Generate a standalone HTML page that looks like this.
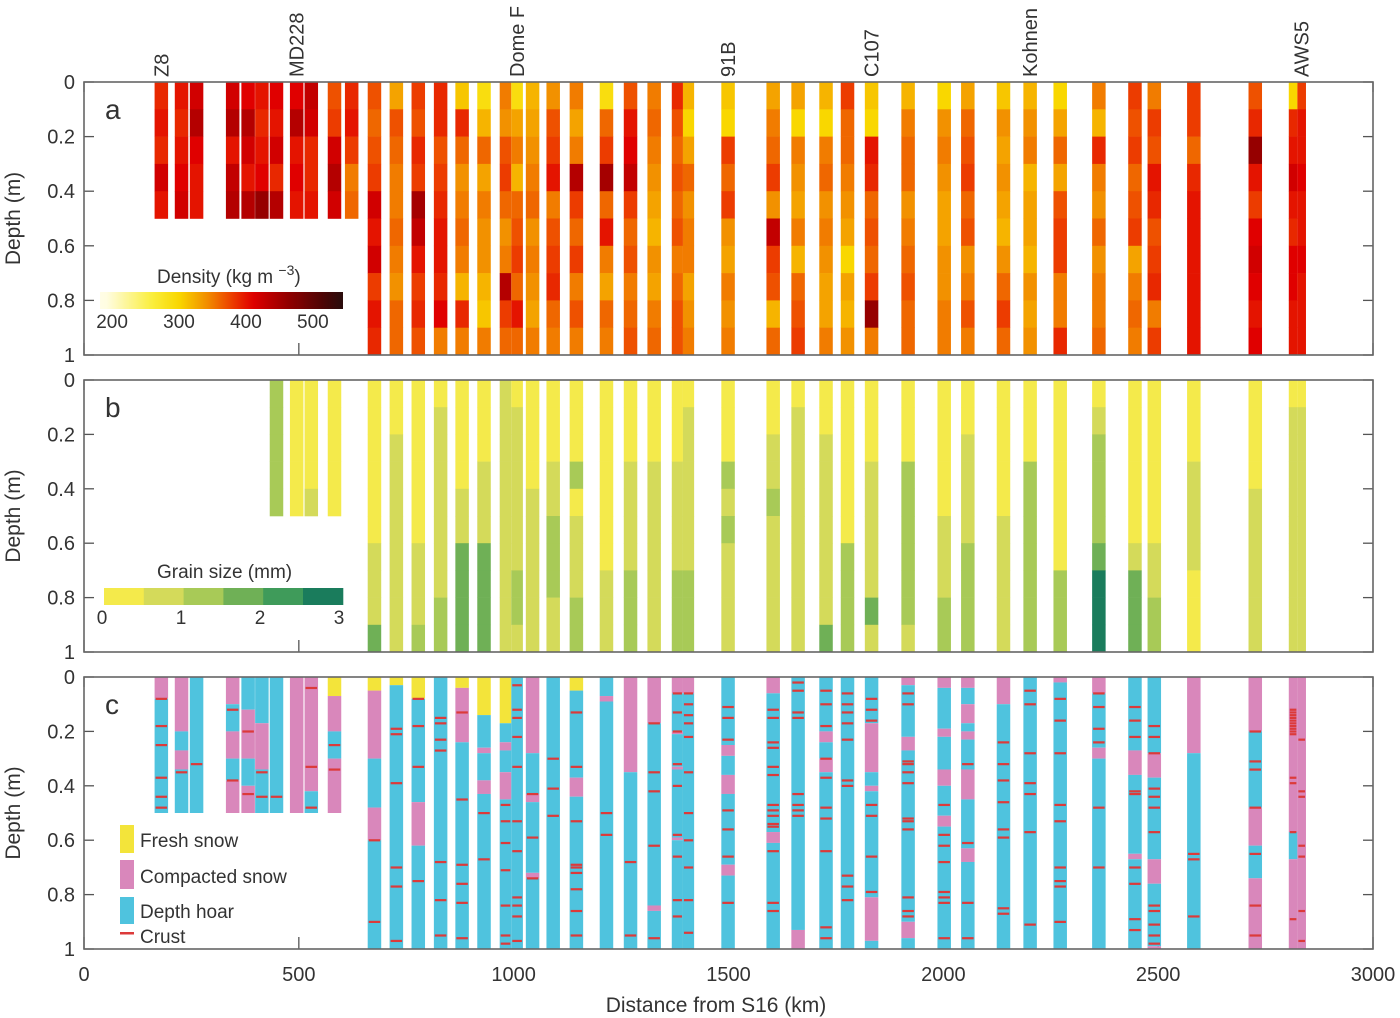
<!DOCTYPE html>
<html><head><meta charset="utf-8"><style>
html,body{margin:0;padding:0;background:#fff;}
svg{display:block;font-family:"Liberation Sans",sans-serif;}
</style></head><body>
<svg id="chart" width="1400" height="1018" viewBox="0 0 1400 1018"></svg>
<script>
// ---- data ----
const distances=[180,227,262,346,382,414,448,495,529,583,623,676,727,778,830,880,931,981,1008,1044,1092,1146,1216,1272,1327,1381,1407,1499,1604,1662,1727,1777,1833,1918,2002,2057,2140,2202,2272,2362,2446,2491,2583,2726,2814,2834];
const density=[
[390,400,390,420,400],[400,390,400,410,420],[420,440,410,400,400],[420,440,400,430,440],[410,440,420,400,440],[400,390,400,410,460],[410,400,420,390,440],[410,440,400,410,400],[430,420,390,390,400],[370,380,420,440,420],[390,400,380,350,360],
[370,360,370,380,420,400,420,380,400,390],[330,370,360,350,350,360,350,340,360,360],[380,370,390,380,450,430,400,380,390,370],[390,390,370,380,390,400,400,390,410,350],[310,390,360,340,350,360,350,320,390,350],[290,320,360,330,350,340,340,320,310,350],[350,340,370,380,360,340,350,440,380,360],[290,330,350,320,360,370,380,360,400,360],[320,330,340,350,360,340,350,340,330,350],[340,370,380,400,350,370,380,390,360,350],[350,330,350,440,380,360,380,350,370,350],[290,360,380,450,360,400,350,330,360,350],[370,400,410,430,380,360,370,350,360,370],[350,360,350,340,330,320,340,330,350,360],[390,370,360,370,360,370,350,360,370,370],[320,300,330,360,340,350,350,330,340,350],
[310,300,380,360,380,340,330,350,340,350],[330,350,360,380,340,430,380,370,320,360],[330,300,350,340,330,350,320,360,370,380],[320,300,350,360,340,350,340,330,330,350],[380,360,360,350,340,330,300,330,320,340],[310,300,400,390,360,370,360,380,460,350],[320,350,360,360,340,350,360,370,360,360],[300,340,350,340,330,330,340,340,350,350],[330,360,370,380,360,370,340,350,370,350],[310,340,330,340,330,320,340,360,380,360],[320,340,350,320,330,330,320,340,330,340],[300,330,360,330,370,380,380,350,350,390],[350,320,390,350,340,360,340,350,350,360],[380,370,380,360,370,380,330,350,360,350],[350,380,370,400,390,370,380,390,350,380],[380,380,360,390,400,400,400,400,400,400],[370,390,460,400,380,410,420,410,400,410],[300,390,400,420,400,390,410,410,400,400],[380,400,400,410,400,400,410,400,400,400]];
const grain=[null,null,null,null,null,null,[2,2,2,2,2],[0,0,0,0,0],[0,0,0,0,1],[0,0,0,0,0],null,
[0,0,0,0,0,0,1,1,1,3],[0,0,1,1,1,1,1,1,1,1],[0,0,0,0,0,0,1,1,1,2],[0,1,1,1,1,1,1,1,2,2],[0,0,0,0,1,1,3,3,3,3],[0,0,0,1,1,1,3,3,3,3],[1,1,1,1,1,1,1,1,1,1],[0,1,1,1,1,1,1,2,2,1],[0,0,0,0,1,1,1,1,1,1],[0,0,0,1,1,2,2,2,1,1],[0,0,0,2,0,1,1,1,2,2],[0,0,0,0,0,0,0,1,1,1],[0,0,0,1,1,1,1,2,2,2],[0,0,0,1,1,1,1,1,1,1],[0,0,0,1,1,1,1,2,2,2],[0,1,1,1,1,1,1,2,2,2],
[0,0,0,2,1,2,1,1,1,1],[0,0,1,1,2,1,1,1,1,1],[0,1,1,1,1,1,1,1,1,1],[0,0,1,1,1,1,1,1,1,3],[0,0,0,0,0,0,2,2,2,2],[0,0,0,1,1,1,1,1,3,1],[0,0,0,2,2,2,2,2,2,1],[0,0,0,0,0,1,1,1,2,2],[0,0,1,1,1,1,2,2,2,2],[0,0,0,0,0,1,1,1,1,1],[0,0,0,2,2,2,2,2,2,2],[0,0,0,0,0,0,0,2,2,2],[0,1,2,2,2,2,3,5,5,5],[0,0,0,0,0,0,1,3,3,3],[0,0,0,0,0,0,1,1,2,2],[0,0,0,1,1,1,1,0,0,0],[0,0,0,0,1,1,1,1,1,1],[0,1,1,1,1,1,1,1,1,1],[0,1,1,1,1,1,1,1,1,1]];
const snowType=[
[[0,1],[0.08,2]],[[0,1],[0.2,2],[0.27,1],[0.34,2]],[[0,2]],[[0,1],[0.1,2],[0.2,1],[0.3,2],[0.38,1]],[[0,2],[0.12,1],[0.3,2],[0.4,1]],[[0,2],[0.17,1],[0.34,2]],[[0,2]],[[0,1]],[[0,1],[0.42,2]],[[0,0],[0.07,1],[0.2,2],[0.3,1]],null,
[[0,0],[0.05,1],[0.3,2],[0.48,1],[0.6,2]],[[0,0],[0.03,2]],[[0,0],[0.08,2],[0.46,1],[0.62,2]],[[0,2]],[[0,0],[0.04,1],[0.24,2]],[[0,0],[0.14,2],[0.26,1],[0.28,2],[0.38,1],[0.43,2]],[[0,0],[0.17,2],[0.24,1],[0.27,2],[0.35,1],[0.45,2]],[[0,2]],[[0,1],[0.28,2],[0.43,1],[0.46,2],[0.72,1],[0.74,2]],[[0,2]],[[0,0],[0.05,2],[0.37,1],[0.44,2]],[[0,2],[0.07,1],[0.09,2]],[[0,1],[0.35,2]],[[0,1],[0.17,2],[0.84,1],[0.86,2]],[[0,1],[0.06,2],[0.2,1],[0.21,2],[0.33,1],[0.34,2],[0.59,1],[0.6,2]],[[0,1],[0.06,2]],
[[0,2],[0.25,1],[0.29,2],[0.36,1],[0.43,2],[0.69,1],[0.73,2]],[[0,1],[0.06,2],[0.57,1],[0.61,2]],[[0,2],[0.93,1]],[[0,2],[0.2,1],[0.24,2],[0.3,1],[0.35,2]],[[0,2]],[[0,2],[0.17,1],[0.35,2],[0.4,1],[0.42,2],[0.81,1],[0.97,2]],[[0,1],[0.03,2],[0.22,1],[0.27,2],[0.9,1],[0.96,2]],[[0,1],[0.04,2],[0.19,1],[0.22,2],[0.34,1],[0.4,2],[0.51,1],[0.55,2]],[[0,1],[0.04,2],[0.1,1],[0.17,2],[0.2,1],[0.23,2],[0.34,1],[0.45,2],[0.63,1],[0.68,2]],[[0,1],[0.1,2]],[[0,2]],[[0,1],[0.02,2]],[[0,1],[0.06,2],[0.26,1],[0.3,2]],[[0,2],[0.27,1],[0.36,2],[0.65,1],[0.67,2]],[[0,2],[0.28,1],[0.37,2],[0.67,1],[0.76,2],[0.99,1]],[[0,1],[0.28,2]],[[0,1],[0.2,2],[0.48,1],[0.62,2],[0.74,1]],[[0,1],[0.57,2],[0.67,1]],[[0,1]]];
const typeDepth=[0.5,0.5,0.5,0.5,0.5,0.5,0.5,0.5,0.5,0.5,0.5];
const crusts=[
[0.08,0.18,0.25,0.37,0.44,0.48],[0.35],[0.32],[0.12,0.38],[0.2,0.43],[0.35,0.44],[0.44],[],[0.04,0.33,0.48],[0.25,0.34],[],
[0.6,0.9],[0.19,0.21,0.39,0.7,0.77,0.97],[0.08,0.18,0.33,0.75],[0.15,0.17,0.23,0.27,0.68,0.82,0.95],[0.13,0.45,0.69,0.76,0.83,0.96],[0.5,0.67],[0.47,0.53,0.61,0.71,0.84,0.95,0.98],[0.03,0.12,0.15,0.22,0.33,0.53,0.64,0.81,0.84,0.88,0.97],[0.43,0.59,0.74],[0.3,0.41,0.51],[0.13,0.33,0.53,0.69,0.7,0.72,0.78,0.86,0.95],[0.5,0.58],[0.68,0.95],[0.17,0.35,0.42,0.62,0.96],[0.06,0.13,0.2,0.32,0.4,0.58,0.66,0.82,0.88],[0.06,0.1,0.14,0.17,0.22,0.35,0.5,0.6,0.7,0.82,0.94],
[0.11,0.15,0.23,0.49,0.56,0.66,0.83],[0.12,0.15,0.24,0.26,0.33,0.36,0.47,0.49,0.51,0.54,0.55,0.64,0.83,0.86],[0.02,0.05,0.13,0.15,0.43,0.47,0.49,0.51],[0.05,0.1,0.18,0.3,0.37,0.48,0.52,0.64,0.92,0.96],[0.06,0.1,0.13,0.17,0.23,0.38,0.4,0.73,0.77,0.82],[0.08,0.12,0.16,0.47,0.51,0.66,0.79],[0.06,0.1,0.31,0.32,0.35,0.39,0.52,0.53,0.56,0.81,0.86,0.88],[0.47,0.58,0.62,0.68,0.79,0.81,0.83,0.96],[0.32,0.61,0.83,0.96],[0.24,0.32,0.38,0.46,0.56,0.59,0.85,0.87],[0.05,0.1,0.28,0.39,0.43,0.57,0.91],[0.08,0.16,0.28,0.47,0.53,0.7,0.75,0.77,0.9],[0.06,0.11,0.19,0.24,0.48,0.7],[0.11,0.16,0.22,0.42,0.43,0.7,0.76,0.89,0.93],[0.18,0.22,0.28,0.41,0.44,0.48,0.57,0.84,0.86,0.91,0.95,0.98],[0.65,0.67,0.88],[0.2,0.31,0.34,0.48,0.65,0.84,0.95],[0.12,0.13,0.14,0.15,0.16,0.17,0.18,0.19,0.2,0.21,0.37,0.39,0.57,0.89],[0.23,0.42,0.44,0.62,0.66,0.86,0.97]];
const stations=["Z8","MD228","Dome F","91B","C107","Kohnen","AWS5"];
const stationKm=[180,495,1008,1499,1833,2202,2834];
const xTicks=[0,500,1000,1500,2000,2500,3000];
const yTicks=[0,0.2,0.4,0.6,0.8,1];
const densityTicks=[200,300,400,500];
const grainTicks=[0,1,2,3];

// ---- helpers ----
const NS="http://www.w3.org/2000/svg";
const svg=document.getElementById('chart');
function mk(tag,attrs,parent){const e=document.createElementNS(NS,tag);for(const k in attrs)e.setAttribute(k,attrs[k]);(parent||svg).appendChild(e);return e;}
const X0=84,X1=1373;
const xS=km=>X0+(X1-X0)*km/3000;
const panels=[{top:82,bot:355,label:'a'},{top:380,bot:652,label:'b'},{top:677,bot:949,label:'c'}];
const yS=(p,d)=>p.top+(p.bot-p.top)*d;
function lerp(a,b,t){return Math.round(a+(b-a)*t);}
const dStops=[[190,[255,253,230]],[260,[250,238,60]],[300,[249,215,0]],[340,[242,145,0]],[380,[236,60,0]],[410,[224,0,0]],[460,[150,0,0]],[520,[70,5,5]],[550,[35,15,15]]];
function dColor(v){if(v<=dStops[0][0])return 'rgb('+dStops[0][1]+')';for(let i=1;i<dStops.length;i++){if(v<=dStops[i][0]){const a=dStops[i-1],b=dStops[i],t=(v-a[0])/(b[0]-a[0]);return `rgb(${lerp(a[1][0],b[1][0],t)},${lerp(a[1][1],b[1][1],t)},${lerp(a[1][2],b[1][2],t)})`;}}return 'rgb(35,15,15)';}
const gColors=['#f4ea4b','#d4da5a','#a8ca57','#6fb056','#3f9b5a','#1a7c5c'];
const tColors=['#f3e43a','#d987bb','#4fc3de'];
const centers=distances.map(xS);
function colWidth(i){let w=13.5;if(i>0)w=Math.min(w,centers[i]-centers[i-1]);if(i<centers.length-1)w=Math.min(w,centers[i+1]-centers[i]);return w;}

// ---- axes frames & ticks ----
panels.forEach((p,pi)=>{
  const g=mk('g',{});
  
  
  p.g=g;
  yTicks.forEach(t=>{
    const y=yS(p,t);
    const l1=mk('line',{x1:X0,x2:X0+10,y1:y,y2:y,stroke:'#555','stroke-width':1.3},g);
    
    const l2=mk('line',{x1:X1-10,x2:X1,y1:y,y2:y,stroke:'#555','stroke-width':1.3},g);
    
    const tx=mk('text',{x:75,y:y+7,'text-anchor':'end','font-size':20,fill:'#333'},g);
    tx.textContent=String(t);
    
  });
  xTicks.forEach(t=>{
    const x=xS(t);
    const l=mk('line',{x1:x,x2:x,y1:p.bot-12,y2:p.bot,stroke:'#555','stroke-width':1.3},g);
    
    const l2=mk('line',{x1:x,x2:x,y1:p.top,y2:p.top+10,stroke:'#555','stroke-width':1.3},g);
    
  });
  const yt=mk('text',{x:0,y:0,transform:`translate(20,${(p.top+p.bot)/2}) rotate(-90)`,'text-anchor':'middle','font-size':21,fill:'#333'},g);
  yt.textContent='Depth (m)';
  
  const pl=mk('text',{x:105,y:p.top+37,'font-size':28,fill:'#333'},g);
  pl.textContent=p.label;
  
});

// ---- panel a: density ----
density.forEach((col,i)=>{
  const w=colWidth(i),x=centers[i]-w/2;
  col.forEach((v,j)=>{
    const y0=yS(panels[0],j*0.1),y1=yS(panels[0],(j+1)*0.1);
    const r=mk('rect',{x:x,y:y0,width:w,height:y1-y0+0.3,fill:dColor(v)},panels[0].g);
    
    
  });
});
// ---- panel b: grain ----
grain.forEach((col,i)=>{
  if(!col)return;
  const w=colWidth(i),x=centers[i]-w/2;
  col.forEach((c,j)=>{
    const y0=yS(panels[1],j*0.1),y1=yS(panels[1],(j+1)*0.1);
    const r=mk('rect',{x:x,y:y0,width:w,height:y1-y0+0.3,fill:gColors[c]},panels[1].g);
    
    
  });
});
// ---- panel c: snow type ----
snowType.forEach((segs,i)=>{
  if(!segs)return;
  const w=colWidth(i),x=centers[i]-w/2;
  const depth=i<typeDepth.length?typeDepth[i]:1;
  segs.forEach((s,j)=>{
    const end=j<segs.length-1?segs[j+1][0]:depth;
    const y0=yS(panels[2],s[0]),y1=yS(panels[2],end);
    const r=mk('rect',{x:x,y:y0,width:w,height:y1-y0,fill:tColors[s[1]]},panels[2].g);
    
    
  });
  crusts[i].forEach(d=>{
    const y=yS(panels[2],d);
    const r=mk('rect',{x:x+1,y:y-1,width:w-2,height:2.2,fill:'#dc3a3a'},panels[2].g);
    
    
  });
});

// frames on top
panels.forEach(p=>{
  const f=mk('rect',{x:X0,y:p.top,width:X1-X0,height:p.bot-p.top,fill:'none',stroke:'#666','stroke-width':1.6},p.g);
  
});

// x tick labels & title
xTicks.forEach(t=>{
  const tx=mk('text',{x:xS(t),y:981,'text-anchor':'middle','font-size':20,fill:'#333'});
  tx.textContent=String(t);
  
});
const xt=mk('text',{x:716,y:1012,'text-anchor':'middle','font-size':21,fill:'#333'});
xt.textContent='Distance from S16 (km)';


// station labels
stations.forEach((s,i)=>{
  const x=xS(stationKm[i])+7;
  const t=mk('text',{x:0,y:0,transform:`translate(${x},77) rotate(-90)`,'font-size':20,fill:'#333'});
  t.textContent=s;
  
});

// density colorbar
const defs=mk('defs',{});
const grad=mk('linearGradient',{id:'dgrad',x1:0,x2:1,y1:0,y2:0},defs);
const cbMin=182,cbMax=545;
for(let v=cbMin;v<=cbMax;v+=10){mk('stop',{offset:(v-cbMin)/(cbMax-cbMin),'stop-color':dColor(v)},grad);}
const cb=mk('rect',{x:100,y:292,width:243,height:17,fill:'url(#dgrad)'});

const cbx=v=>100+243*(v-cbMin)/(cbMax-cbMin);
densityTicks.forEach(v=>{
  const t=mk('text',{x:cbx(v),y:328,'text-anchor':'middle','font-size':19,fill:'#333'});
  t.textContent=String(v);
  
});
const dt=mk('text',{x:157,y:283,'font-size':19,fill:'#333'});
dt.innerHTML='Density (kg m <tspan dy="-8" font-size="14">−3</tspan><tspan dy="8">)</tspan>';


// grain colorbar
gColors.forEach((c,i)=>{
  const r=mk('rect',{x:104+i*39.8,y:588,width:40.3,height:17,fill:c});
  
});
grainTicks.forEach(v=>{
  const t=mk('text',{x:102+v*79,y:624,'text-anchor':'middle','font-size':19,fill:'#333'});
  t.textContent=String(v);
  
});
const gt=mk('text',{x:157,y:578,'font-size':19,fill:'#333'});
gt.textContent='Grain size (mm)';


// type legend
const legItems=[['Fresh snow',tColors[0],825,847],['Compacted snow',tColors[1],860,883],['Depth hoar',tColors[2],897,918]];
legItems.forEach(it=>{
  const r=mk('rect',{x:120,y:it[2],width:14,height:it[3]-it[2]+6,fill:it[1]});
  
  const t=mk('text',{x:140,y:it[3],'font-size':19,fill:'#333'});
  t.textContent=it[0];
  
});
const cl=mk('rect',{x:120,y:932,width:14,height:2.5,fill:'#dc3a3a'});

const ct=mk('text',{x:140,y:943,'font-size':19,fill:'#333'});
ct.textContent='Crust';

</script>
</body></html>
